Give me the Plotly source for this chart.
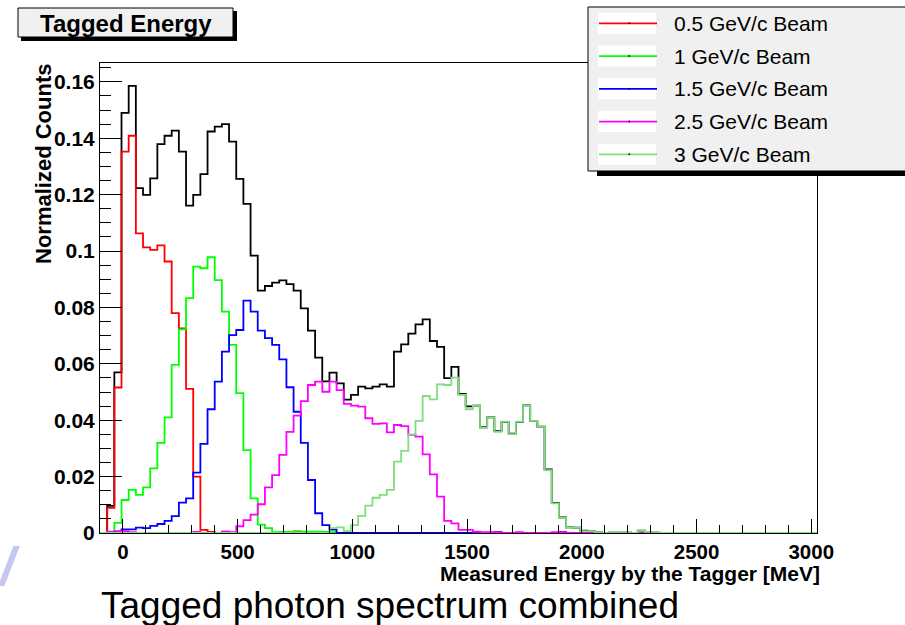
import numpy as np
import plotly.graph_objects as go

# ---------------- data (100 bins, 31.25 MeV wide, starting at -100 MeV) ----------------
bin_lo = -100.0
bin_width = 31.25
n_bins = 100

combined = [
    0, 0.0096, 0.057, 0.149, 0.1586, 0.1223, 0.1199, 0.1258, 0.1379, 0.1409,
    0.1427, 0.1353, 0.1161, 0.1199, 0.1273, 0.1424, 0.1441, 0.1450, 0.1388, 0.1256,
    0.1167, 0.0984, 0.0860, 0.0876, 0.0888, 0.0896, 0.0883, 0.0860, 0.0797, 0.0718,
    0.0622, 0.0538, 0.0569, 0.0531, 0.0473, 0.0490, 0.0519, 0.0513, 0.0519, 0.0527,
    0.0519, 0.0643, 0.0669, 0.0707, 0.0740, 0.0758, 0.0681, 0.0660, 0.0549, 0.0589,
    0.0493, 0.0449, 0.0452, 0.0375, 0.0410, 0.0361, 0.0394, 0.0352, 0.0394, 0.0453,
    0.0398, 0.0377, 0.0226, 0.0107, 0.0055, 0.0020, 0.0019, 0.0008, 0.0007, 0.0003,
    0, 0.0004, 0.0004, 0.0004, 0, 0.0008, 0.0004, 0.0004, 0, 0,
    0, 0, 0, 0, 0, 0, 0, 0, 0, 0,
    0, 0, 0, 0, 0, 0, 0, 0, 0, 0,
]
beam_05 = [
    0, 0.0089, 0.0516, 0.1353, 0.1409, 0.1063, 0.1013, 0.1004, 0.1020, 0.0963,
    0.0780, 0.0726, 0.0511, 0.0200, 0.0011, 0.0004, 0, 0.0005, 0, 0,
    0, 0, 0, 0, 0, 0, 0, 0.0006, 0, 0,
    0, 0, 0, 0, 0, 0, 0, 0, 0, 0,
    0, 0, 0, 0, 0, 0, 0, 0, 0, 0,
    0, 0, 0, 0, 0, 0, 0, 0, 0, 0,
    0, 0, 0, 0, 0, 0, 0, 0, 0, 0,
    0, 0, 0, 0, 0, 0, 0, 0, 0, 0,
    0, 0, 0, 0, 0, 0, 0, 0, 0, 0,
    0, 0, 0, 0, 0, 0, 0, 0, 0, 0,
]
beam_10 = [
    0, 0, 0.0036, 0.0117, 0.0153, 0.0135, 0.0162, 0.0229, 0.0320, 0.0410,
    0.0596, 0.0722, 0.0833, 0.0945, 0.0939, 0.0978, 0.0897, 0.0785, 0.0667, 0.0496,
    0.0294, 0.0123, 0.0030, 0.0017, 0.0003, 0.0004, 0.0004, 0.0005, 0.0005, 0.0005,
    0.0005, 0.0004, 0.0003, 0, 0, 0, 0, 0, 0, 0,
    0, 0, 0, 0, 0, 0, 0, 0, 0, 0,
    0, 0, 0, 0, 0, 0, 0, 0, 0, 0,
    0, 0, 0, 0, 0, 0, 0, 0, 0, 0,
    0, 0, 0, 0, 0, 0, 0, 0, 0, 0,
    0, 0, 0, 0, 0, 0, 0, 0, 0, 0,
    0, 0, 0, 0, 0, 0, 0, 0, 0, 0,
]
beam_15 = [
    0, 0, 0.0005, 0.0013, 0.0013, 0.0019, 0.0017, 0.0025, 0.0032, 0.0043,
    0.0060, 0.0108, 0.0123, 0.0214, 0.0316, 0.0439, 0.0537, 0.0643, 0.0702, 0.0720,
    0.0824, 0.0785, 0.0718, 0.0691, 0.0667, 0.0616, 0.0517, 0.0430, 0.0320, 0.0188,
    0.0070, 0.0028, 0.0012, 0, 0, 0, 0, 0, 0, 0,
    0, 0, 0, 0, 0, 0, 0, 0, 0, 0,
    0, 0, 0.0004, 0, 0, 0.0004, 0, 0, 0, 0,
    0, 0, 0, 0, 0.0004, 0, 0, 0, 0, 0,
    0, 0, 0, 0, 0, 0, 0, 0, 0, 0,
    0, 0, 0, 0, 0, 0, 0, 0, 0, 0,
    0, 0, 0, 0, 0, 0, 0, 0, 0, 0,
]
beam_25 = [
    0, 0.0005, 0.0007, 0.0007, 0.0003, 0, 0, 0, 0, 0,
    0, 0, 0, 0.0004, 0, 0, 0, 0.0005, 0.0003, 0.0024,
    0.0046, 0.0065, 0.0102, 0.0162, 0.0205, 0.0277, 0.0359, 0.0416, 0.0468, 0.0525,
    0.0537, 0.0501, 0.0537, 0.0507, 0.0458, 0.0452, 0.0448, 0.0407, 0.0387, 0.0389,
    0.0357, 0.0383, 0.0379, 0.0348, 0.0342, 0.0279, 0.0208, 0.0129, 0.0043, 0.0034,
    0.0011, 0.0011, 0.0005, 0.0003, 0.0003, 0.0003, 0, 0, 0.0003, 0,
    0, 0, 0, 0.0003, 0.0003, 0, 0, 0, 0, 0,
    0, 0.0003, 0.0003, 0, 0, 0, 0, 0, 0, 0,
    0, 0, 0, 0, 0, 0, 0, 0, 0, 0,
    0, 0, 0, 0, 0, 0, 0, 0, 0, 0,
]
beam_30 = [
    0, 0, 0, 0, 0, 0, 0, 0, 0, 0,
    0, 0, 0, 0, 0, 0, 0, 0, 0, 0,
    0, 0, 0, 0, 0, 0, 0, 0, 0, 0,
    0, 0, 0.0017, 0.0020, 0.0007, 0.0028, 0.0061, 0.0097, 0.0125, 0.0135,
    0.0153, 0.0253, 0.0291, 0.0350, 0.0398, 0.0486, 0.0474, 0.0527, 0.0525, 0.0551,
    0.0490, 0.0439, 0.0452, 0.0374, 0.0409, 0.0359, 0.0395, 0.0351, 0.0395, 0.0452,
    0.0398, 0.0377, 0.0223, 0.0105, 0.0054, 0.0019, 0.0019, 0.0007, 0.0007, 0.0003,
    0, 0.0004, 0.0004, 0.0004, 0, 0.0008, 0.0004, 0.0004, 0, 0,
    0, 0, 0, 0, 0, 0, 0, 0, 0, 0,
    0, 0, 0, 0, 0, 0, 0, 0, 0, 0,
]

legend_labels = ["0.5 GeV/c Beam", "1 GeV/c Beam", "1.5 GeV/c Beam",
                 "2.5 GeV/c Beam", "3 GeV/c Beam"]
x_tick_vals = [0, 500, 1000, 1500, 2000, 2500, 3000]
x_tick_text = ["0", "500", "1000", "1500", "2000", "2500", "3000"]
y_tick_vals = [0, 0.02, 0.04, 0.06, 0.08, 0.10, 0.12, 0.14, 0.16]
y_tick_text = ["0", "0.02", "0.04", "0.06", "0.08", "0.1", "0.12", "0.14", "0.16"]

# ---------------- styling ----------------
FONT = "Liberation Sans"
C_BLACK = "#000000"
C_RED = "#ff0000"
C_GREEN = "#00ff00"
C_BLUE = "#0000ff"
C_MAG = "#ff00ff"
C_LGREEN = "#7ddf7d"
LW = 1.8

W, H = 905, 625
L, R, T, B = 100, 817, 63, 533   # frame in pixels


def px(xp):
    return (xp - L) / (R - L)


def py(yp):
    return (B - yp) / (B - T)


edges = bin_lo + bin_width * np.arange(n_bins + 1)
x_max = edges[-1]


def step_trace(vals, color):
    yv = list(vals) + [vals[-1]]
    return go.Scatter(x=edges, y=yv, mode="lines", line_shape="hv",
                      line=dict(color=color, width=LW), showlegend=False,
                      hoverinfo="skip")


fig = go.Figure()
series = [(combined, C_BLACK), (beam_05, C_RED), (beam_10, C_GREEN),
          (beam_15, C_BLUE), (beam_25, C_MAG), (beam_30, C_LGREEN)]
for vals, col in series:
    fig.add_trace(step_trace(vals, col))

shapes = []
# title box with shadow
shapes.append(dict(type="rect", xref="paper", yref="paper", x0=px(21), x1=px(237),
                   y0=py(41), y1=py(11), fillcolor="black", line=dict(width=0), layer="above"))
shapes.append(dict(type="rect", xref="paper", yref="paper", x0=px(18), x1=px(233),
                   y0=py(37), y1=py(8), fillcolor="#f0f0f0", line=dict(color="black", width=1),
                   layer="above"))
# legend box with shadow
shapes.append(dict(type="rect", xref="paper", yref="paper", x0=px(597), x1=px(920),
                   y0=py(176), y1=py(15), fillcolor="black", line=dict(width=0), layer="above"))
shapes.append(dict(type="rect", xref="paper", yref="paper", x0=px(588), x1=px(920),
                   y0=py(171), y1=py(7), fillcolor="#f0f0f0", line=dict(color="black", width=1),
                   layer="above"))

annotations = []
leg_colors = [C_RED, C_GREEN, C_BLUE, C_MAG, C_LGREEN]
for i, (lab, col) in enumerate(zip(legend_labels, leg_colors)):
    yc = 23.3 + 32.75 * i
    shapes.append(dict(type="rect", xref="paper", yref="paper", x0=px(598), x1=px(656),
                       y0=py(yc + 10.5), y1=py(yc - 10.5), fillcolor="white",
                       line=dict(width=0), layer="above"))
    shapes.append(dict(type="line", xref="paper", yref="paper", x0=px(599), x1=px(657),
                       y0=py(yc), y1=py(yc), line=dict(color=col, width=1.8), layer="above"))
    shapes.append(dict(type="line", xref="paper", yref="paper", x0=px(628.5), x1=px(630),
                       y0=py(yc), y1=py(yc), line=dict(color="black", width=1.5), layer="above"))
    annotations.append(dict(text=lab, xref="paper", yref="paper", x=px(672), y=py(yc),
                            xanchor="left", yanchor="middle", showarrow=False,
                            font=dict(family=FONT, size=21, color="black")))

annotations.append(dict(text="<b>Tagged Energy</b>", xref="paper", yref="paper",
                        x=px(125.5), y=py(23), xanchor="center", yanchor="middle",
                        showarrow=False, font=dict(family=FONT, size=24, color="black")))
annotations.append(dict(text="<b>Normalized Counts</b>", xref="paper", yref="paper",
                        x=px(44), y=py(62), xanchor="center", yanchor="top", textangle=-90,
                        showarrow=False, font=dict(family=FONT, size=22, color="black")))
annotations.append(dict(text="<b>Measured Energy by the Tagger [MeV]</b>", xref="paper",
                        yref="paper", x=px(821), y=py(573.5), xanchor="right", yanchor="middle",
                        showarrow=False, borderpad=0,
                        font=dict(family=FONT, size=21, color="black")))
annotations.append(dict(text="Tagged photon spectrum combined", xref="paper", yref="paper",
                        x=px(99), y=py(605), xanchor="left", yanchor="middle",
                        showarrow=False, font=dict(family=FONT, size=37, color="black")))
annotations.append(dict(text="<b><i>/</i></b>", xref="paper", yref="paper",
                        x=px(9), y=py(566), xanchor="center", yanchor="middle",
                        showarrow=False, font=dict(family=FONT, size=54, color="#c6c6f2")))

fig.update_layout(
    width=W, height=H, autosize=False,
    margin=dict(l=L, r=W - R, t=T, b=H - B, pad=0),
    paper_bgcolor="white", plot_bgcolor="white",
    shapes=shapes, annotations=annotations, showlegend=False,
    xaxis=dict(range=[bin_lo, x_max], tickmode="array", tickvals=x_tick_vals,
               ticktext=x_tick_text, ticks="inside", ticklen=14, tickwidth=1,
               tickcolor="black", showline=True, linecolor="black", linewidth=1,
               mirror=True, showgrid=False, zeroline=False,
               tickfont=dict(family=FONT, size=20.5, color="black", weight="bold"),
               minor=dict(tickmode="linear", tick0=0, dtick=100, ticks="inside",
                          ticklen=8, tickwidth=1, tickcolor="black", showgrid=False)),
    yaxis=dict(range=[0, 0.1667], tickmode="array", tickvals=y_tick_vals,
               ticktext=y_tick_text, ticks="inside", ticklen=22, tickwidth=1,
               tickcolor="black", showline=True, linecolor="black", linewidth=1,
               mirror=True, showgrid=False, zeroline=False,
               tickfont=dict(family=FONT, size=21, color="black", weight="bold"),
               minor=dict(tickmode="linear", tick0=0, dtick=0.005, ticks="inside",
                          ticklen=11, tickwidth=1, tickcolor="black", showgrid=False)),
)

fig.write_html("out.html",
               config={"displayModeBar": False, "staticPlot": True},
               post_script="document.body.style.margin='0px';"
                           "document.body.style.overflow='hidden';")
